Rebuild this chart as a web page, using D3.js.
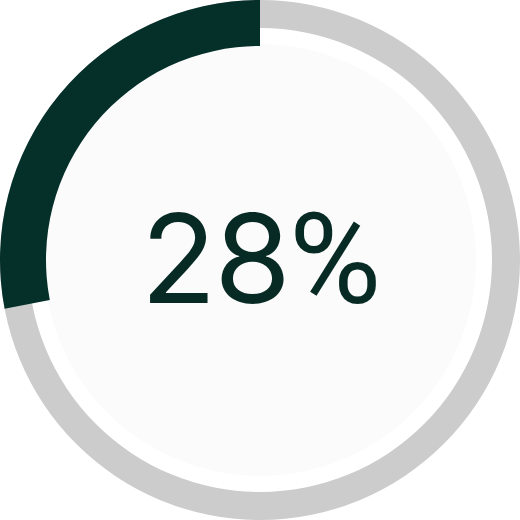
<!DOCTYPE html>
<html><head><meta charset="utf-8">
<script src="https://cdn.jsdelivr.net/npm/d3@7"></script>
<style>html,body{margin:0;padding:0;background:#fff;}svg{display:block;}</style>
</head><body>
<div id="chart"></div>
<script>
const value = [28];
const total = [100];
const label = ["28", "%"];

const W = 520, H = 520, cx = 260, cy = 260;
const svg = d3.select("#chart").append("svg").attr("width", W).attr("height", H);
const g = svg.append("g").attr("transform", `translate(${cx},${cy})`);

const angle = d3.scaleLinear().domain([0, total[0]]).range([0, 2 * Math.PI]);

g.append("circle").attr("r", 216).attr("fill", "#fbfbfb");

g.append("path")
  .attr("d", d3.arc().innerRadius(232).outerRadius(260).startAngle(0).endAngle(2 * Math.PI)())
  .attr("fill", "#cccccc");

g.append("path")
  .attr("d", d3.arc().innerRadius(214).outerRadius(260).startAngle(0).endAngle(-angle(value[0]))())
  .attr("fill", "#05302a");

const t = g.append("text")
  .attr("x", 0).attr("y", 43)
  .attr("text-anchor", "middle")
  .attr("font-family", "Inter, sans-serif")
  .attr("font-size", 124)
  .attr("letter-spacing", -2)
  .attr("fill", "#082a24");
t.append("tspan").text(label[0]);
t.append("tspan").attr("font-family", "Roboto, sans-serif").attr("font-size", 126).text(label[1]);
</script>
</body></html>
